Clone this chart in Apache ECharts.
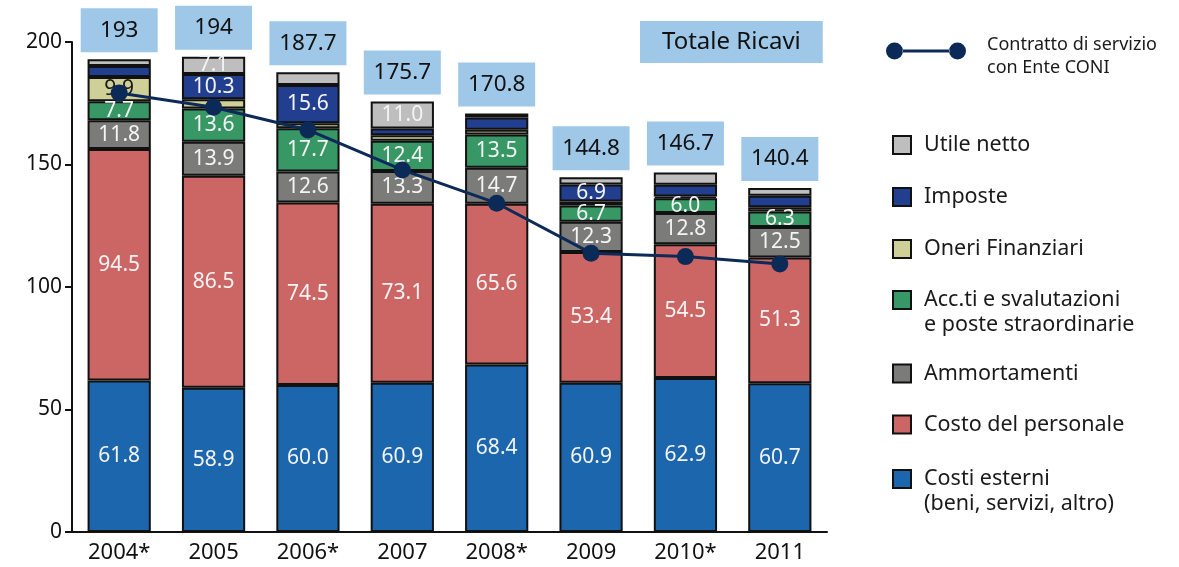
<!DOCTYPE html>
<html>
<head>
<meta charset="utf-8">
<script src="https://cdn.jsdelivr.net/npm/echarts@6/dist/echarts.min.js"></script>
<style>
  html, body { margin: 0; padding: 0; background: #fff; }
  #chart { width: 1179px; height: 567px; }
</style>
</head>
<body>
<div id="chart"></div>
<script>
// dati (milioni di euro)
const anni = ['2004*', '2005', '2006*', '2007', '2008*', '2009', '2010*', '2011']
const costiEsterni = [61.8, 58.9, 60.0, 60.9, 68.4, 60.9, 62.9, 60.7]
const costoPersonale = [94.5, 86.5, 74.5, 73.1, 65.6, 53.4, 54.5, 51.3]
const ammortamenti = [11.8, 13.9, 12.6, 13.3, 14.7, 12.3, 12.8, 12.5]
const accantonamenti = [7.7, 13.6, 17.7, 12.4, 13.5, 6.7, 6.0, 6.3]
const oneriFinanziari = [9.9, 3.7, 2.0, 2.2, 2.0, 1.6, 0.7, 1.8]
const imposte = [4.5, 10.3, 15.6, 2.8, 5.0, 6.9, 4.8, 4.6]
const utileNetto = [2.8, 7.1, 5.3, 11.0, 1.6, 3.0, 5.0, 3.2]
const totaleRicavi = [193, 194, 187.7, 175.7, 170.8, 144.8, 146.7, 140.4]
const contrattoConi = [179.2, 173.4, 164.1, 147.8, 134.2, 113.8, 112.4, 109.4]

const FONT = 'Noto Sans'

// serie impilate, dal basso verso l'alto
const stackDef = [
  { name: 'Costi esterni\n(beni, servizi, altro)', data: costiEsterni, color: '#1c66ad', text: '#f4f4f4' },
  { name: 'Costo del personale', data: costoPersonale, color: '#cc6665', text: '#f4f4f4' },
  { name: 'Ammortamenti', data: ammortamenti, color: '#7b7c79', text: '#f4f4f4' },
  { name: 'Acc.ti e svalutazioni\ne poste straordinarie', data: accantonamenti, color: '#379866', text: '#f4f4f4' },
  { name: 'Oneri Finanziari', data: oneriFinanziari, color: '#cfcf98', text: '#1a1a1a' },
  { name: 'Imposte', data: imposte, color: '#223f8f', text: '#f4f4f4' },
  { name: 'Utile netto', data: utileNetto, color: '#bebebe', text: '#f4f4f4' }
]

let series = stackDef.map(function (s) {
  return {
    name: s.name,
    type: 'bar',
    stack: 'ricavi',
    barCategoryGap: '33%',
    data: s.data,
    itemStyle: { color: s.color, borderColor: '#111', borderWidth: 2 },
    label: {
      show: true,
      position: 'inside',
      color: s.text,
      fontFamily: FONT,
      fontSize: 21,
      formatter: function (p) {
        return p.value >= 6 ? p.value.toFixed(1) : ''
      }
    }
  }
})

// etichette del totale sopra le barre
series.push({
  name: 'Totale',
  type: 'bar',
  stack: 'ricavi',
  data: totaleRicavi.map(function () { return 0 }),
  itemStyle: { color: 'rgba(0,0,0,0)', borderWidth: 0 },
  label: {
    show: true,
    position: 'top',
    distance: 7,
    formatter: function (p) { return String(totaleRicavi[p.dataIndex]) },
    backgroundColor: '#9fc8e8',
    width: 77,
    height: 44,
    lineHeight: 44,
    padding: 0,
    color: '#111',
    fontFamily: FONT,
    fontSize: 22.5
  }
})

series.push({
  name: 'Contratto di servizio\ncon Ente CONI',
  type: 'line',
  data: contrattoConi,
  z: 10,
  symbol: 'circle',
  symbolSize: 17,
  color: '#0c2a58',
  lineStyle: { color: '#0c2a58', width: 3 },
  itemStyle: { color: '#0c2a58' },
  label: { show: false }
})

// legenda: una componente per voce; le voci su due righe ricevono una riga vuota sopra
// così il quadratino resta allineato alla prima riga di testo
const legendTops = [441.5, 412, 361, 262.5, 236.5, 184.5, 132.5]
let legends = stackDef.map(function (s, i) {
  return {
    left: 892,
    top: legendTops[i],
    padding: 0,
    orient: 'vertical',
    icon: 'rect',
    itemWidth: 18,
    itemHeight: 18,
    selectedMode: false,
    data: [s.name],
    formatter: function (name) {
      return name.indexOf('\n') > -1 ? '\n' + name : name
    },
    textStyle: {
      fontFamily: FONT,
      fontSize: 21.5,
      lineHeight: 25,
      color: '#1a1a1a',
      padding: [0, 0, 0, 8]
    }
  }
})
legends.push({
  left: 886,
  top: 24,
  padding: 0,
  itemWidth: 80,
  itemHeight: 17,
  selectedMode: false,
  data: [{
    name: 'Contratto di servizio\ncon Ente CONI',
    icon: 'path://M0,8.5A8.5,8.5,0,1,0,17,8.5A8.5,8.5,0,1,0,0,8.5ZM63,8.5A8.5,8.5,0,1,0,80,8.5A8.5,8.5,0,1,0,63,8.5ZM16.5,7H63.5V10H16.5Z',
    itemStyle: { color: '#0c2a58', borderWidth: 0 }
  }],
  formatter: function (name) {
    let righe = name.split('\n')
    return '{s| }\n{a|' + righe[0] + '}\n{a|' + righe[1] + '}'
  },
  textStyle: {
    padding: [0, 0, 0, 16],
    rich: {
      s: { fontSize: 8, lineHeight: 10 },
      a: { fontFamily: FONT, fontSize: 18, lineHeight: 23, color: '#1a1a1a' }
    }
  }
})

let myChart = echarts.init(document.getElementById('chart'))
myChart.setOption({
  animation: false,
  backgroundColor: '#fff',
  title: {
    text: 'Totale Ricavi',
    left: 640,
    top: 21,
    backgroundColor: '#9fc8e8',
    padding: [9, 22],
    textStyle: {
      fontFamily: FONT,
      fontSize: 24,
      lineHeight: 24,
      fontWeight: 'normal',
      color: '#111'
    }
  },
  legend: legends,
  grid: {
    left: 72,
    right: 352,
    top: 42,
    bottom: 35
  },
  xAxis: {
    type: 'category',
    data: anni,
    axisTick: { show: false },
    axisLine: { lineStyle: { color: '#111', width: 2 } },
    axisLabel: {
      color: '#111',
      fontFamily: FONT,
      fontSize: 22,
      margin: 10
    }
  },
  yAxis: {
    type: 'value',
    min: 0,
    max: 200,
    interval: 50,
    splitLine: { show: false },
    axisLine: { show: true, lineStyle: { color: '#111', width: 2 } },
    axisTick: { show: true, length: 7, lineStyle: { color: '#111', width: 2 } },
    axisLabel: {
      color: '#111',
      fontFamily: FONT,
      fontSize: 21,
      margin: 10
    }
  },
  series: series
})
window.addEventListener('resize', function () {
  myChart.resize()
})
</script>
</body>
</html>
